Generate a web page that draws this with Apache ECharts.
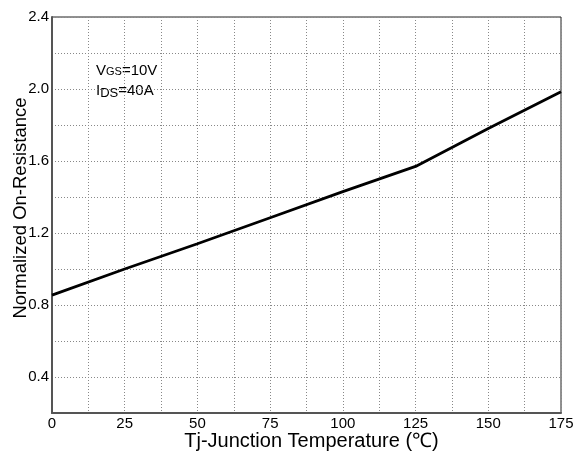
<!DOCTYPE html>
<html><head><meta charset="utf-8">
<script src="https://cdn.jsdelivr.net/npm/echarts@6/dist/echarts.min.js"></script>
<style>html,body{margin:0;padding:0;background:#fff}#c{width:578px;height:451px}</style>
</head><body><div id="c"></div>
<script>
const temps = [0, 25, 50, 75, 100, 125, 150, 175];
const resistance = [0.855, 1.0, 1.14, 1.285, 1.43, 1.57, 1.78, 1.985];
const xTickLabels = ['0', '25', '50', '75', '100', '125', '150', '175'];
const yTickLabels = ['0.4', '0.8', '1.2', '1.6', '2.0', '2.4'];
const chart = echarts.init(document.getElementById('c'));
const font = 'Liberation Sans, Arial, sans-serif';
chart.setOption({
  animation: false,
  grid: {left: 52, right: 17, top: 17, bottom: 38, containLabel: false, outerBoundsMode: 'none',
    show: true, borderColor: '#222', borderWidth: 1},
  xAxis: {
    type: 'value', min: 0, max: 175, interval: 12.5,
    name: 'Tj-Junction Temperature (℃)', nameLocation: 'middle', nameGap: 18, nameMoveOverlap: false,
    nameTextStyle: {fontSize: 20, color: '#000', fontFamily: font, padding: [0, 0, 0, 10]},
    axisLine: {show: true, lineStyle: {color: '#555', width: 2}},
    axisTick: {show: false},
    axisLabel: {margin: 3, fontSize: 15, color: '#000', fontFamily: font,
      formatter: v => { const s = String(v); return xTickLabels.indexOf(s) >= 0 ? s : ''; }},
    splitLine: {show: true, lineStyle: {color: '#888', type: [1, 2], width: 1}}
  },
  yAxis: {
    type: 'value', min: 0.2, max: 2.4, interval: 0.2,
    name: 'Normalized On-Resistance', nameLocation: 'middle', nameGap: 22, nameMoveOverlap: false,
    nameTextStyle: {fontSize: 18.5, color: '#000', fontFamily: font, padding: [0, 0, 0, 14]},
    axisLine: {show: true, lineStyle: {color: '#555', width: 2}},
    axisTick: {show: false},
    axisLabel: {margin: 3, fontSize: 15, color: '#000', fontFamily: font,
      formatter: v => { const s = v.toFixed(1); return yTickLabels.indexOf(s) >= 0 ? s : ''; }},
    splitLine: {show: true, lineStyle: {color: '#888', type: [1, 2], width: 1}}
  },
  series: [{
    type: 'line', data: temps.map((t, i) => [t, resistance[i]]),
    showSymbol: false, lineStyle: {color: '#000', width: 2.8}
  }],
  graphic: [
    {type: 'text', left: 96, top: 63, style: {
      text: '{b|V}{s|GS}{b|=10V}', fill: '#000',
      rich: {b: {fontSize: 15, fontFamily: font, verticalAlign: 'bottom'}, s: {fontSize: 11, fontFamily: font, verticalAlign: 'bottom', padding: [0,0,1,0]}}
    }},
    {type: 'text', left: 96, top: 83, style: {
      text: '{b|I}{s|DS}{b|=40A}', fill: '#000',
      rich: {b: {fontSize: 15, fontFamily: font}, s: {fontSize: 13, fontFamily: font, padding: [6,0,0,0]}}
    }}
  ]
});
</script></body></html>
